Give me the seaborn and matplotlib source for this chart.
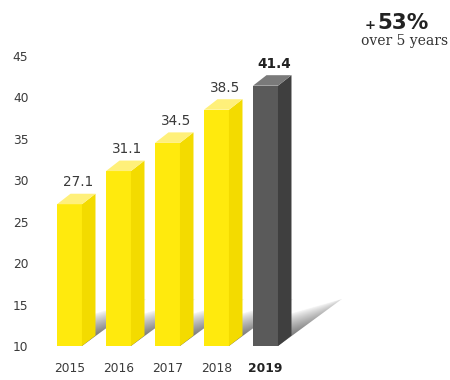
import numpy as np
import pandas as pd
import matplotlib
matplotlib.use("Agg")
import matplotlib.pyplot as plt
from matplotlib.patches import Polygon
import seaborn as sns

# ---- data ----
years = ["2015", "2016", "2017", "2018", "2019"]
values = [27.1, 31.1, 34.5, 38.5, 41.4]
value_labels = ["27.1", "31.1", "34.5", "38.5", "41.4"]
y_ticks = [10, 15, 20, 25, 30, 35, 40, 45]
growth_label = "53%"
growth_caption = "over 5 years"

# ---- style ----
FRONT = ["#FFEA0D"] * 4 + ["#5A5A5A"]
SIDE = ["#F3DB00"] * 4 + ["#3F3F3F"]
TOP = ["#FFF07A"] * 4 + ["#7A7A7A"]
TEXT = "#3A3A3A"
BASE = 10
DEPTH_PX = (13.5, 10.5)       # extrusion offset of each bar, in pixels
SHADOW_PX = (64.0, 47.0)      # tip of the floor shadow
SHADOW_TOP_PX = 29.0          # height of the shadow's upper edge at the bar

sns.set_theme(style="white")
plt.rcParams["font.family"] = ["DejaVu Sans"]

fig = plt.figure(figsize=(4.5, 3.8), dpi=100)
ax = fig.add_axes([0.0891, 0.0895, 0.686, 0.829])

df = pd.DataFrame({"year": years, "value": values})
sns.barplot(data=df, x="year", y="value", hue="year", palette=FRONT,
            width=0.51, saturation=1, legend=False, ax=ax, zorder=3,
            linewidth=0)

ax.set_xlim(-0.6, 5.7)
ax.set_ylim(BASE, 48)
ax.set_yticks(y_ticks)
ax.set_yticklabels([str(t) for t in y_ticks])
ax.set_xlabel("")
ax.set_ylabel("")
for s in ax.spines.values():
    s.set_visible(False)
ax.tick_params(axis="y", length=0, pad=8.4, labelsize=8.8, labelcolor=TEXT)
ax.tick_params(axis="x", length=0, pad=11.5, labelsize=8.8, labelcolor=TEXT)
ax.get_xticklabels()[-1].set_fontweight("bold")
ax.get_xticklabels()[-1].set_color("#222222")


def px_to_data(dxp, dyp):
    x0, y0 = ax.transData.transform((0, BASE))
    x1, y1 = ax.transData.inverted().transform((x0 + dxp, y0 + dyp))
    return x1, y1 - BASE


ddx, ddy = px_to_data(*DEPTH_PX)
sdx, sdy = px_to_data(*SHADOW_PX)
_, s_top = px_to_data(0, SHADOW_TOP_PX)

# gradient for the floor shadow (computed in pixel space)
W, H = int(SHADOW_PX[0]) + 1, int(max(SHADOW_PX[1], SHADOW_TOP_PX)) + 20
gx, gy = np.meshgrid(np.linspace(0, SHADOW_PX[0], W), np.linspace(0, H, H))
low = SHADOW_PX[1] / SHADOW_PX[0] * gx
up = SHADOW_TOP_PX + (SHADOW_PX[1] - SHADOW_TOP_PX) / SHADOW_PX[0] * gx
u = np.clip((gy - low) / np.maximum(up - low, 1e-6), 0, 1)
v = gx / SHADOW_PX[0]
dark = 0.62 * (1 - u) ** 0.8 * (1 - 0.8 * v)
grad = np.ones((H, W, 4))
grad[..., 0] = grad[..., 1] = grad[..., 2] = 1 - dark
_, img_h = px_to_data(0, H)

bars = [p for p in ax.patches]
bars.sort(key=lambda p: p.get_x())
for i, (patch, val) in enumerate(zip(bars, values)):
    xl = patch.get_x()
    xr = xl + patch.get_width()

    # floor shadow
    shadow = Polygon([(xr, BASE), (xr + sdx, BASE + sdy), (xr, BASE + s_top)],
                     closed=True, facecolor="none", edgecolor="none")
    ax.add_patch(shadow)
    im = ax.imshow(grad, extent=(xr, xr + sdx, BASE, BASE + img_h),
                   origin="lower", aspect="auto", zorder=1,
                   interpolation="bilinear")
    im.set_clip_path(shadow)

    # side face
    ax.add_patch(Polygon([(xr, BASE), (xr + ddx, BASE + ddy),
                          (xr + ddx, val + ddy), (xr, val)],
                         closed=True, facecolor=SIDE[i], edgecolor="none",
                         zorder=3))
    # top face
    ax.add_patch(Polygon([(xl, val), (xr, val), (xr + ddx, val + ddy),
                          (xl + ddx, val + ddy)],
                         closed=True, facecolor=TOP[i], edgecolor="none",
                         zorder=3))

    last = i == len(values) - 1
    ax.annotate(value_labels[i], ((xl + xr) / 2, val), xytext=(6.5, 15.8),
                textcoords="offset points", ha="center", va="center",
                fontsize=9.8, color="#222222" if last else TEXT,
                fontweight="bold" if last else "normal")

ax.set_xlim(-0.6, 5.7)
ax.set_ylim(BASE, 48)

# growth callout
fig.text(376 / 450, 1 - 29 / 380, "+", ha="right", va="baseline",
         fontsize=9.5, fontweight="bold", color="#222222")
fig.text(377 / 450, 1 - 29 / 380, growth_label, ha="left", va="baseline",
         fontsize=15.5, fontweight="bold", color="#222222")
fig.text(448 / 450, 1 - 44.5 / 380, growth_caption, ha="right",
         va="baseline", fontsize=10, color="#333333",
         family=["DejaVu Serif"])

fig.savefig("out.png", dpi=100)
